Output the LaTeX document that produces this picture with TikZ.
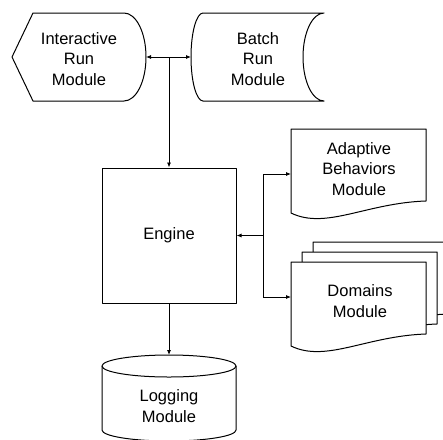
\documentclass[tikz,border=0pt]{standalone}
\usepackage{fontspec}
\setmainfont{Liberation Sans}
\usetikzlibrary{arrows.meta}
\tikzset{
  shapeline/.style={draw=black, line width=1pt, fill=white, line join=round},
  conn/.style={draw=black, line width=0.8pt, -{Latex[length=5pt,width=4pt]}},
  biconn/.style={draw=black, line width=0.8pt, {Latex[length=5pt,width=4pt]}-{Latex[length=5pt,width=4pt]}},
  label/.style={align=center, font=\fontsize{16.5}{20.5}\selectfont, inner sep=0pt},
  docshape/.pic={
    \path[shapeline] (0,0) -- (135,0) -- (135,72)
      .. controls (75,74) and (35,101) .. (0,84) -- cycle;
  }
}
\begin{document}
\begin{tikzpicture}[x=1pt,y=-1pt]
\useasboundingbox (0,0) rectangle (443,439);

% Interactive Run Module (display shape)
\path[shapeline] (12,57) -- (33,13) -- (124,13)
  .. controls (136.2,13) and (146,32.7) .. (146,57)
  .. controls (146,81.3) and (136.2,101) .. (124,101)
  -- (33,101) -- cycle;
\coordinate (irm-e) at (146,57);
\node[label] (irm) at (79,59) {Interactive\\Run\\Module};

% Batch Run Module (stored data shape)
\path[shapeline] (203,13)
  .. controls (196.4,13) and (191,32.7) .. (191,57)
  .. controls (191,81.3) and (196.4,101) .. (203,101)
  -- (324,101)
  .. controls (312.4,101) and (303,81.3) .. (303,57)
  .. controls (303,32.7) and (312.4,13) .. (324,13) -- cycle;
\coordinate (brm-w) at (191,57);
\node[label] (brm) at (258,59) {Batch\\Run\\Module};

% Engine
\node[shapeline, label, minimum width=134pt, minimum height=135pt] (eng) at (169,235.5) {Engine};

% Adaptive Behaviors Module (document)
\pic at (291,129) {docshape};
\coordinate (abm-w) at (291,174);
\node[label] (abm) at (359,169) {Adaptive\\Behaviors\\Module};

% Domains Module (multiple documents)
\pic at (313,242) {docshape};
\pic at (302,252) {docshape};
\pic at (291,262) {docshape};
\coordinate (dom-w) at (291,297);
\node[label] (dom) at (360,301) {Domains\\Module};

% Logging Module (cylinder)
\path[shapeline] (102,366)
  .. controls (102,359.9) and (132,355) .. (169,355)
  .. controls (206,355) and (236,359.9) .. (236,366)
  -- (236,430)
  .. controls (236,436.1) and (206,441) .. (169,441)
  .. controls (132,441) and (102,436.1) .. (102,430) -- cycle;
\draw[line width=1pt] (102,366)
  .. controls (102,372.1) and (132,377) .. (169,377)
  .. controls (206,377) and (236,372.1) .. (236,366);
\coordinate (log-n) at (169,355);
\node[label] (log) at (169,406) {Logging\\Module};

% Connectors
\coordinate (j1) at (169,57);
\coordinate (j2) at (263,235.5);
\draw[biconn] (irm-e) -- (brm-w);
\draw[conn] (j1) -- (eng.north);
\draw[conn] (j2) -- (eng.east);
\draw[conn] (j2) |- (abm-w);
\draw[conn] (j2) |- (dom-w);
\draw[conn] (eng.south) -- (log-n);
\end{tikzpicture}
\end{document}
